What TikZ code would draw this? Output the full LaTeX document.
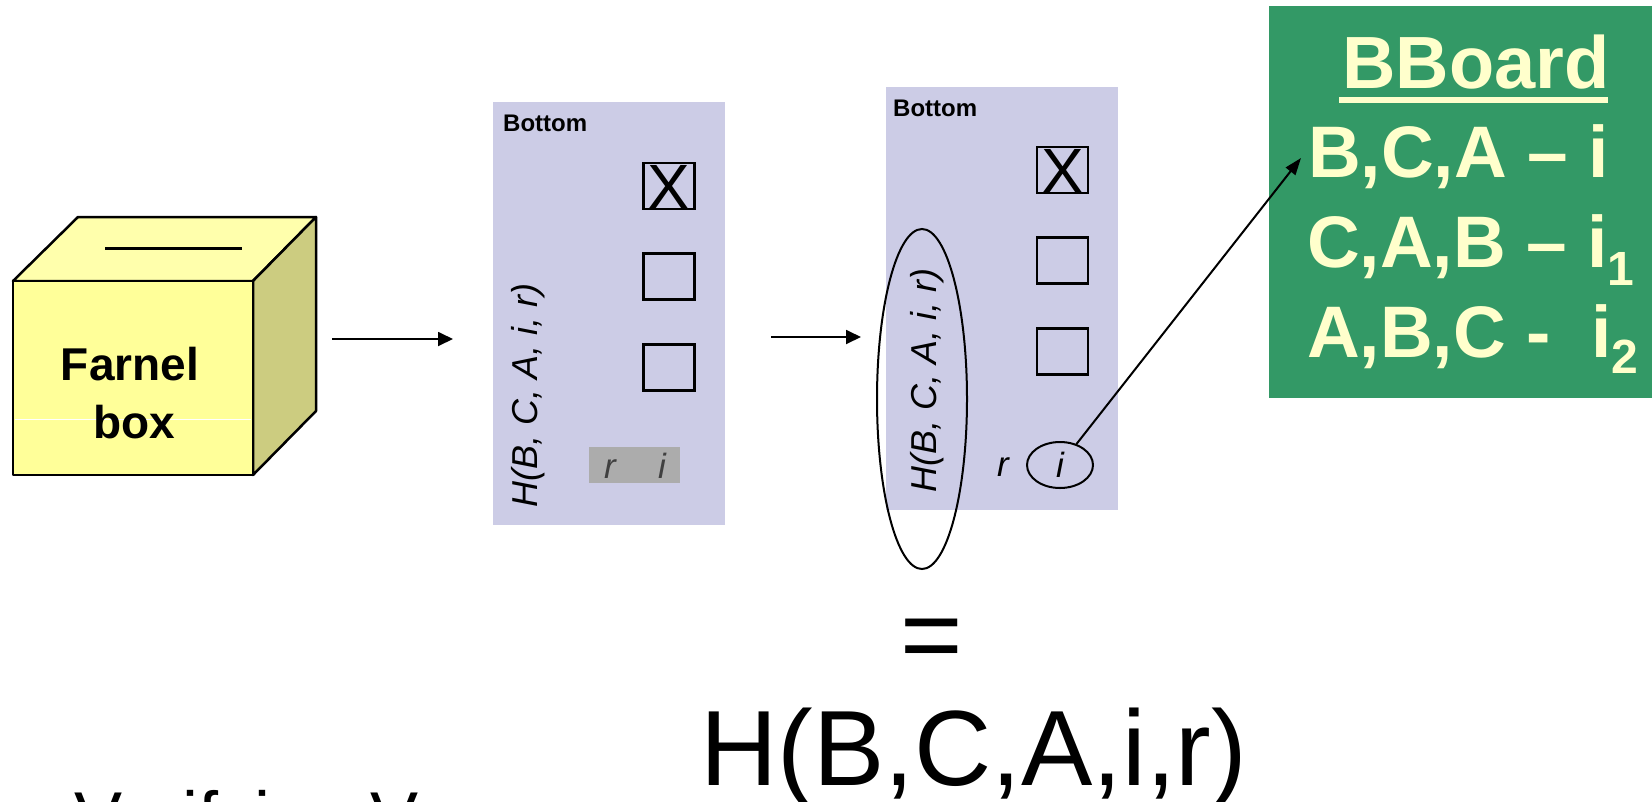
\documentclass[tikz,border=0pt]{standalone}
\usepackage{fontspec}
\setmainfont{Liberation Sans}
\usetikzlibrary{arrows.meta,shapes.geometric}
\definecolor{ballotfill}{RGB}{204,204,230}
\definecolor{bbgreen}{RGB}{51,153,102}
\definecolor{bbtext}{RGB}{255,255,204}
\definecolor{boxfront}{RGB}{255,255,153}
\definecolor{boxtop}{RGB}{255,255,172}
\definecolor{boxside}{RGB}{204,204,128}
\definecolor{receiptgray}{RGB}{172,172,172}
\newcommand\pxsize[1]{\fontsize{#1}{#1}\selectfont}
\begin{document}
\begin{tikzpicture}[x=1pt,y=-1pt,
  ballot/.style={rectangle, fill=ballotfill, draw=none, minimum width=232pt, minimum height=423pt, inner sep=0pt},
  chk/.style={rectangle, draw, line width=2.5pt, minimum width=51pt, minimum height=46pt, inner sep=0pt},
  xmark/.style={inner sep=0pt, anchor=base, font=\pxsize{64}},
  lbl/.style={inner sep=0pt, anchor=base west},
  title/.style={lbl, font=\bfseries\pxsize{24}},
  hashtxt/.style={lbl, rotate=90, font=\itshape\pxsize{36}},
  flow/.style={line width=1.8pt, -{Triangle[length=15pt,width=14pt]}},
  bbline/.style={lbl, text=bbtext, font=\bfseries\pxsize{73}},
  sub/.style={}
]
\clip (0,0) rectangle (1652,801);

% ---- ballot box ----
\begin{scope}[line width=2.5pt, line join=round, draw=black]
  \filldraw[fill=boxtop] (13,281) -- (78,217) -- (316,217) -- (253,281) -- cycle;
  \filldraw[fill=boxside] (253,281) -- (316,217) -- (316,411) -- (253,475) -- cycle;
  \filldraw[fill=boxfront] (13,281) rectangle (253,475);
\end{scope}
\draw[white, line width=0.8pt] (15,419) -- (251,419);
\draw[line width=3pt] (105,248) -- (242,248);
\node[inner sep=0pt, anchor=base, font=\bfseries\pxsize{46}] (farnel) at (130,380) {Farnel};
\node[inner sep=0pt, anchor=base, font=\bfseries\pxsize{46}] (fbox) at (134,438) {box};

% ---- arrows between stages ----
\coordinate (a1s) at (332,339);
\coordinate (a1e) at (453,339);
\coordinate (a2s) at (771,337);
\coordinate (a2e) at (861,337);
\draw[flow] (a1s) -- (a1e);
\draw[flow] (a2s) -- (a2e);

% ---- ballot with receipt strip ----
\node[ballot] (b1) at (609,313.5) {};
\node[title] (b1t) at (503,131) {Bottom};
\node[chk] (b1c1) at (669,186) {};
\node[xmark] (b1x) at (669,209) {X};
\node[chk] (b1c2) at (669,276.5) {};
\node[chk] (b1c3) at (669,367.5) {};
\node[hashtxt] (b1h) at (537,508) {H(B, C, A, i, r)};
\node[rectangle, fill=receiptgray, minimum width=91pt, minimum height=36pt, inner sep=0pt] (b1rec) at (634.5,465) {};
\node[inner sep=0pt, anchor=base, text=black!75, font=\itshape\pxsize{35}] (b1r) at (610,478) {r};
\node[inner sep=0pt, anchor=base, text=black!75, font=\itshape\pxsize{35}] (b1i) at (662,478) {i};

% ---- ballot after separation ----
\node[ballot] (b2) at (1002,298.5) {};
\node[title] (b2t) at (893,116) {Bottom};
\node[chk] (b2c1) at (1062.5,170) {};
\node[xmark] (b2x) at (1062.5,193) {X};
\node[chk] (b2c2) at (1062.5,260.5) {};
\node[chk] (b2c3) at (1062.5,351.5) {};
\node[hashtxt] (b2h) at (936,493) {H(B, C, A, i, r)};
\node[ellipse, draw, line width=2pt, minimum width=90pt, minimum height=340pt, inner sep=0pt] (b2ell) at (922,399) {};
\node[inner sep=0pt, anchor=base, font=\itshape\pxsize{35}] (b2r) at (1003,476) {r};
\node[ellipse, draw, line width=2pt, minimum width=66pt, minimum height=46pt, inner sep=0pt, font=\itshape\pxsize{35}] (b2i) at (1060,465) {i};

% ---- bulletin board ----
\node[rectangle, fill=bbgreen, minimum width=400pt, minimum height=392pt, inner sep=0pt, anchor=north west] (bb) at (1269,6) {};
\node[lbl, text=bbtext, font=\bfseries\pxsize{74}] (bbt) at (1342,88) {BBoard};
\draw[bbtext, line width=6pt] (1339,100) -- (1608,100);
\node[bbline] (bb1) at (1308,177) {B,C,A – i};
\node[bbline] (bb2) at (1307,267) {C,A,B – i\raisebox{-18pt}{\pxsize{48}1}};
\node[bbline] (bb3) at (1307,357) {A,B,C -\ \ i\raisebox{-16pt}{\pxsize{48}2}};
\coordinate (tip) at (1301,158);
\draw[line width=2pt, -{Triangle[length=17pt,width=12pt]}] (b2i) -- (tip);

% ---- equation below ----
\node[lbl, font=\pxsize{107}] (eq) at (900,671) {=};
\node[lbl, font=\pxsize{107}] (hash) at (700,785) {H(B,C,A,i,r)};
\node[lbl, font=\pxsize{72}] (verify) at (74,842) {Verifying V};
\end{tikzpicture}
\end{document}
